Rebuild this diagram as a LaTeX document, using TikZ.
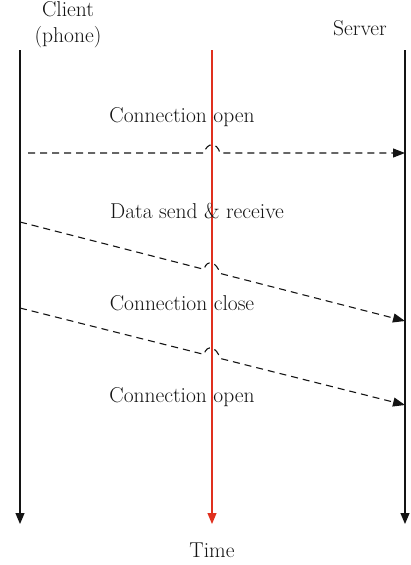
\documentclass[tikz,border=0pt]{standalone}
\usetikzlibrary{arrows.meta,calc}
\definecolor{timered}{RGB}{224,48,30}
\definecolor{ink}{RGB}{20,20,20}
\begin{document}
\begin{tikzpicture}[x=1pt,y=-1pt,
  lifeline/.style={draw=ink,line width=1.2pt,-{Triangle[length=11pt,width=9pt]}},
  timeline/.style={draw=timered,line width=1.2pt,-{Triangle[length=11pt,width=9pt]}},
  msg/.style={draw=ink,line width=1.1pt,dash pattern=on 7pt off 5pt,-{Triangle[length=12pt,width=9pt]}},
  lbl/.style={font=\fontsize{21.5}{26}\selectfont,inner sep=0pt,text=ink,align=center}]
\useasboundingbox (0,0) rectangle (411,565);

% column heads and axis label
\node[lbl] (client) at (68,25) {Client\\(phone)};
\node[lbl] (server) at (360,28) {Server};
\node[lbl] (time) at (212,550) {Time};

% lifelines
\coordinate (cTop) at (20,50);  \coordinate (cBot) at (20,524);
\coordinate (tTop) at (212,50); \coordinate (tBot) at (212,524);
\coordinate (sTop) at (405,50); \coordinate (sBot) at (405,524);
\draw[lifeline] (cTop) -- (cBot);
\draw[timeline] (tTop) -- (tBot);
\draw[lifeline] (sTop) -- (sBot);

% message labels
\node[lbl] (l1) at (182,117) {Connection open};
\node[lbl] (l2) at (197,211) {Data send \& receive};
\node[lbl] (l3) at (182,303) {Connection close};
\node[lbl] (l4) at (182,397) {Connection open};

% messages, each hopping over the time axis
\coordinate (m1a) at (28,153);  \coordinate (m1b) at (405,153);
\coordinate (m1h) at (204,153); \coordinate (m1k) at (220,153);
\draw[msg] (m1a) -- (m1h) .. controls ($(m1h)+(3,-11)$) and ($(m1k)+(-3,-11)$) .. (m1k) -- (m1b);

\coordinate (m2a) at (20,222);    \coordinate (m2b) at (405,321);
\coordinate (m2h) at (204,269.3); \coordinate (m2k) at (220,273.4);
\draw[msg] (m2a) -- (m2h) .. controls ($(m2h)+(3,-11)$) and ($(m2k)+(-3,-11)$) .. (m2k) -- (m2b);

\coordinate (m3a) at (20,308);    \coordinate (m3b) at (405,405);
\coordinate (m3h) at (204,354.4); \coordinate (m3k) at (220,358.4);
\draw[msg] (m3a) -- (m3h) .. controls ($(m3h)+(3,-11)$) and ($(m3k)+(-3,-11)$) .. (m3k) -- (m3b);
\end{tikzpicture}
\end{document}
